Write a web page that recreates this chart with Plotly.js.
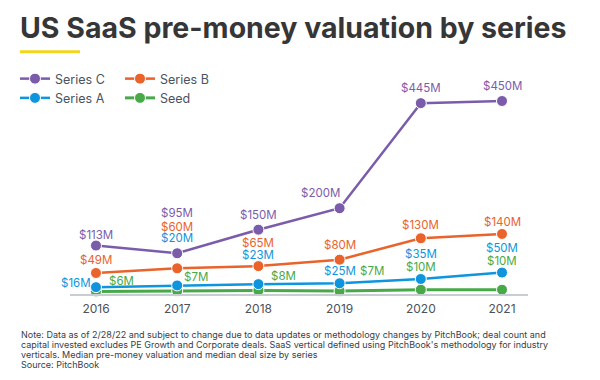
<!DOCTYPE html>
<html>
<head>
<meta charset="utf-8">
<script src="https://cdn.plot.ly/plotly-3.0.1.min.js"></script>
<style>html,body{margin:0;padding:0;background:#fff;}#chart{width:600px;height:380px;}</style>
</head>
<body>
<div id="chart"></div>
<script>
// ---- data ----
const years = [2016, 2017, 2018, 2019, 2020, 2021];
const yearLabels = ["2016", "2017", "2018", "2019", "2020", "2021"];
const seriesC = [113, 95, 150, 200, 445, 450];
const seriesB = [49, 60, 65, 80, 130, 140];
const seriesA = [16, 20, 23, 25, 35, 50];
const seed = [6, 7, 8, 7, 10, 10];
const seriesNames = ["Series C", "Series B", "Series A", "Seed"];
const titleText = "US SaaS pre-money valuation by series";
const noteLines = [
  "Note: Data as of 2/28/22 and subject to change due to data updates or methodology changes by PitchBook; deal count and",
  "capital invested excludes PE Growth and Corporate deals. SaaS vertical defined using PitchBook's methodology for industry",
  "verticals. Median pre-money valuation and median deal size by series",
  "Source: PitchBook"
];

// ---- styling ----
const colC = "#7b5cab", colB = "#e9632b", colA = "#0f95de", colS = "#47a947";
const FONT = "Inter, 'Noto Sans', sans-serif";

// label offsets in pixels (dx right, dy down) relative to each point
const offC = [[0,-11],[0,-40],[0,-15],[-19,-15],[0,-15],[0,-15]];
const offB = [[0,-13],[0,-41],[0,-23],[0,-15],[0,-13],[0,-12]];
const offA = [[-20,-4],[0,-47],[0,-29],[0,-12],[0,-25],[0,-25]];
const offS = [[26,-10],[19,-14],[25,-15],[32,-20],[0,-23],[0,-29]];

function trace(name, vals, color, legend, lw) {
  return {
    x: years, y: vals, name: name, type: "scatter", mode: "lines+markers",
    line: {color: color, width: lw},
    marker: {color: color, size: 11, line: {color: "#fff", width: 1}},
    legend: legend, cliponaxis: false, hoverinfo: "skip"
  };
}
// draw order: Seed at bottom, Series C on top
const data = [
  trace(seriesNames[3], seed, colS, "legend2", 3),
  trace(seriesNames[2], seriesA, colA, "legend", 2.5),
  trace(seriesNames[1], seriesB, colB, "legend2", 2.5),
  trace(seriesNames[0], seriesC, colC, "legend", 2.5)
];

const ML = 70, MR = 72, MT = 92, MB = 86, W = 600, H = 380;
const PW = W - ML - MR, PH = H - MT - MB;
const px2x = p => (p - ML) / PW;
const py2y = p => (H - MB - p) / PH;

const annotations = [];
function addLabels(vals, offs, color) {
  vals.forEach((v, i) => {
    annotations.push({
      x: years[i], y: v, xref: "x", yref: "y",
      text: "$" + v + "M", showarrow: false,
      xanchor: "center", yanchor: "middle",
      xshift: offs[i][0], yshift: -offs[i][1],
      font: {family: FONT, size: 11.5, color: color}
    });
  });
}
addLabels(seriesC, offC, colC);
addLabels(seriesB, offB, colB);
addLabels(seriesA, offA, colA);
addLabels(seed, offS, colS);

noteLines.forEach((t, i) => {
  annotations.push({
    xref: "paper", yref: "paper", x: px2x(19), y: py2y(334.3 + 10 * i),
    xanchor: "left", yanchor: "middle", align: "left", showarrow: false,
    text: t, font: {family: FONT, size: 9, color: "#36404b"}
  });
});

const legendFont = {family: FONT, size: 12.5, color: "#4a5360"};
const layout = {
  width: W, height: H,
  margin: {l: ML, r: MR, t: MT, b: MB, pad: 0},
  paper_bgcolor: "#fff", plot_bgcolor: "#fff",
  title: {
    text: titleText,
    xref: "container", yref: "container", x: 20 / W, xanchor: "left",
    y: 1 - 28 / H, yanchor: "middle",
    font: {family: FONT, size: 28.5, color: "#363636", weight: 700}
  },
  showlegend: true,
  legend: {
    x: px2x(15), y: py2y(64), xanchor: "left", yanchor: "top",
    orientation: "v", traceorder: "reversed", font: legendFont,
    bgcolor: "rgba(0,0,0,0)", itemclick: false, itemdoubleclick: false
  },
  legend2: {
    x: px2x(120), y: py2y(64), xanchor: "left", yanchor: "top",
    orientation: "v", traceorder: "reversed", font: legendFont,
    bgcolor: "rgba(0,0,0,0)", itemclick: false, itemdoubleclick: false
  },
  xaxis: {
    range: [2015.68, 2021.32], tickvals: years, ticktext: yearLabels,
    showgrid: false, zeroline: false, showline: true, linecolor: "#c8ccd3", linewidth: 2,
    ticks: "", ticklabelstandoff: 3,
    tickfont: {family: FONT, size: 12, color: "#4c525a"}, fixedrange: true
  },
  yaxis: {range: [0, 471], visible: false, fixedrange: true},
  shapes: [{
    type: "line", xref: "paper", yref: "paper",
    x0: px2x(20), x1: px2x(80), y0: py2y(51.7), y1: py2y(51.7),
    line: {color: "#f2d61a", width: 3}
  }],
  annotations: annotations
};

Plotly.newPlot("chart", data, layout, {displayModeBar: false, staticPlot: true});
</script>
</body>
</html>
